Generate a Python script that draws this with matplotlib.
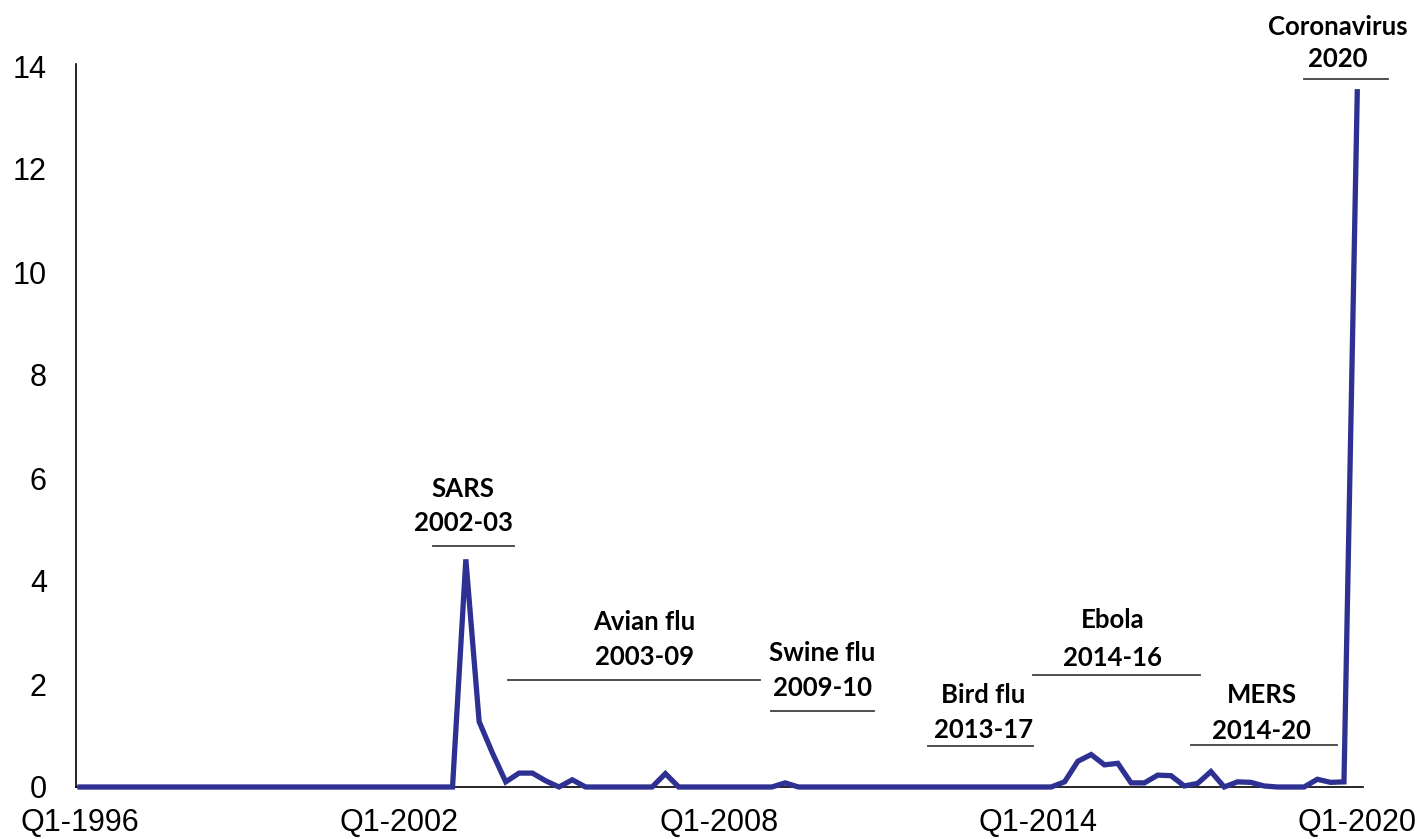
import matplotlib
matplotlib.use("Agg")
import matplotlib.pyplot as plt

# ---- data ----
years = list(range(1996, 2021))
quarters = [f"Q{q}-{y}" for y in years for q in range(1, 5)][:97]  # Q1-1996 .. Q1-2020

values = (
    [0.0] * 28
    + [0.0, 4.42, 1.27, 0.66, 0.10, 0.27, 0.27, 0.12, 0.0, 0.14]      # 28-37
    + [0.0] * 6                                                        # 38-43
    + [0.26]                                                           # 44
    + [0.0] * 8                                                        # 45-52
    + [0.08]                                                           # 53
    + [0.0] * 20                                                       # 54-73
    + [0.10, 0.50, 0.63, 0.43, 0.46, 0.08, 0.08, 0.23, 0.22, 0.02,     # 74-83
       0.07, 0.30, 0.0, 0.10, 0.09, 0.02, 0.0, 0.0, 0.0, 0.15,         # 84-93
       0.09, 0.10, 13.5]                                               # 94-96
)

tick_labels = ["Q1-1996", "Q1-2002", "Q1-2008", "Q1-2014", "Q1-2020"]
y_ticks = [0, 2, 4, 6, 8, 10, 12, 14]

events = ["SARS", "Avian flu", "Swine flu", "Bird flu", "Ebola", "MERS", "Coronavirus"]
periods = ["2002-03", "2003-09", "2009-10", "2013-17", "2014-16", "2014-20", "2020"]

# ---- layout for annotations (x in quarter index, y in data units) ----
ann_cx = [28.8, 42.4, 55.8, 67.9, 77.6, 88.8, 94.5]
ann_t1 = [5.79, 3.20, 2.60, 1.79, 3.24, 1.79, 14.76]
ann_t2 = [5.13, 2.52, 1.92, 1.11, 2.50, 1.09, 14.14]
ann_lx0 = [26.5, 32.2, 51.9, 63.7, 71.6, 83.5, 92.0]
ann_lx1 = [32.6, 51.1, 59.7, 71.6, 84.2, 94.45, 98.3]
ann_ly = [4.68, 2.08, 1.48, 0.80, 2.17, 0.82, 13.75]

W, H = 1424, 839
fig = plt.figure(figsize=(W / 100, H / 100), dpi=100)
ax = fig.add_axes([76 / W, (H - 787) / H, (1363 - 76) / W, (787 - 66) / H])

x = list(range(len(values)))
ax.plot(x, values, color="#2E3192", lw=3.8, solid_joinstyle="miter", clip_on=False, zorder=3)

ax.set_xlim(-0.3, 96.43)
ax.set_ylim(0, 14)

tick_pos = [quarters.index(t) for t in tick_labels]
ax.set_xticks(tick_pos)
ax.set_xticklabels(tick_labels)
ax.set_yticks(y_ticks)
ax.set_yticklabels([str(v) for v in y_ticks])

for lab in ax.get_xticklabels() + ax.get_yticklabels():
    lab.set_fontfamily("Liberation Sans")
    lab.set_fontsize(22)
    lab.set_color("black")
ax.tick_params(axis="y", length=0, pad=21)
ax.tick_params(axis="x", length=0, pad=15)

for s in ["top", "right"]:
    ax.spines[s].set_visible(False)
ax.spines["left"].set_color("black")
ax.spines["left"].set_linewidth(1.2)
ax.spines["bottom"].set_color("black")
ax.spines["bottom"].set_linewidth(1.2)
ax.spines["left"].set_bounds(0, 14.04)

for i, (ev, pr) in enumerate(zip(events, periods)):
    ax.text(ann_cx[i], ann_t1[i], ev, ha="center", va="center", fontsize=18.5,
            fontweight="bold", family="Lato", color="black", clip_on=False)
    ax.text(ann_cx[i], ann_t2[i], pr, ha="center", va="center", fontsize=18.5,
            fontweight="bold", family="Lato", color="black", clip_on=False)
    ax.plot([ann_lx0[i], ann_lx1[i]], [ann_ly[i], ann_ly[i]], color="#404040",
            lw=1.3, clip_on=False, zorder=2)

fig.savefig("out.png", dpi=100)
